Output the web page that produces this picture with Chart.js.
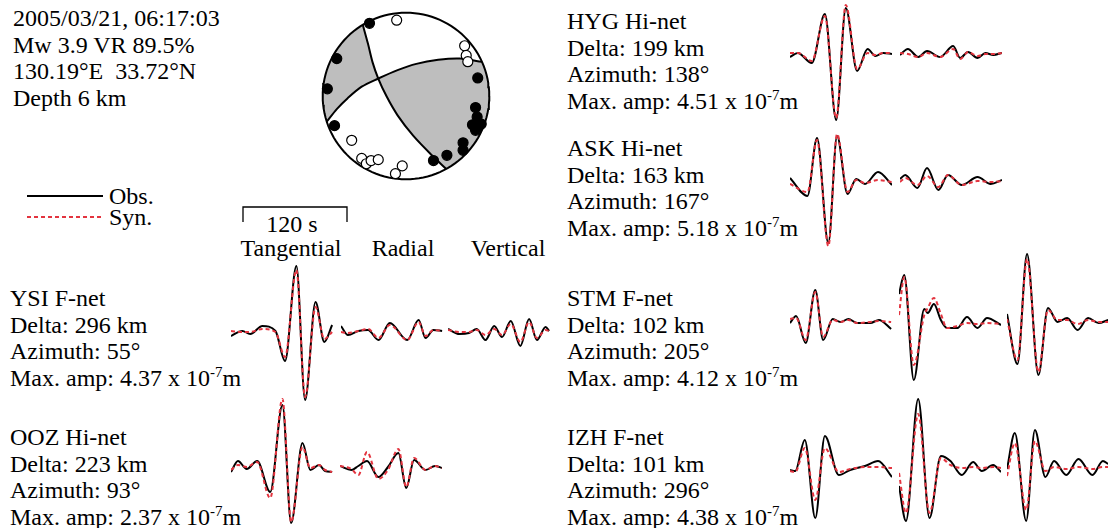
<!DOCTYPE html>
<html>
<head>
<meta charset="utf-8">
<script src="https://cdn.jsdelivr.net/npm/chart.js@4.4.1/dist/chart.umd.min.js"></script>
<style>
  body { margin: 0; background: #fff; }
  #page { position: relative; width: 1108px; height: 528px; overflow: hidden;
          font-family: "Liberation Serif", "Times New Roman", Times, serif; font-size: 24px; color: #000; }
  .txt { position: absolute; line-height: 26.5px; white-space: nowrap; }
  .txt sup { font-size: 15px; vertical-align: 0; position: relative; top: -9px; }
  .ctr { transform: translateX(-50%); }
  canvas.tr, canvas.ball { position: absolute; }
  svg { position: absolute; left: 0; top: 0; }
</style>
</head>
<body>
<div id="page">
  <div class="txt" style="left:13px;top:5px">2005/03/21, 06:17:03<br>Mw 3.9 VR 89.5%<br>130.19°E&nbsp; 33.72°N<br>Depth 6 km</div>

  <svg width="560" height="260">
    <line x1="27" y1="196" x2="103" y2="196" stroke="#000" stroke-width="2"/>
    <line x1="27" y1="217" x2="103" y2="217" stroke="#e3343f" stroke-width="2" stroke-dasharray="4 3"/>
    <polyline points="243,222 243,207 347,207 347,222" fill="none" stroke="#000" stroke-width="1.3"/>
  </svg>
  <div class="txt" style="left:109px;top:183px">Obs.</div>
  <div class="txt" style="left:109px;top:204px">Syn.</div>
  <div class="txt ctr" style="left:292px;top:211px">120 s</div>
  <div class="txt ctr" style="left:291px;top:235px">Tangential</div>
  <div class="txt ctr" style="left:403px;top:235px">Radial</div>
  <div class="txt ctr" style="left:508px;top:235px">Vertical</div>

  <div class="txt" style="left:567px;top:8px">HYG Hi-net<br>Delta: 199 km<br>Azimuth: 138°<br>Max. amp: 4.51 x 10<sup>-7</sup>m</div>
  <div class="txt" style="left:567px;top:135px">ASK Hi-net<br>Delta: 163 km<br>Azimuth: 167°<br>Max. amp: 5.18 x 10<sup>-7</sup>m</div>
  <div class="txt" style="left:10px;top:285px">YSI F-net<br>Delta: 296 km<br>Azimuth: 55°<br>Max. amp: 4.37 x 10<sup>-7</sup>m</div>
  <div class="txt" style="left:10px;top:424px">OOZ Hi-net<br>Delta: 223 km<br>Azimuth: 93°<br>Max. amp: 2.37 x 10<sup>-7</sup>m</div>
  <div class="txt" style="left:567px;top:285px">STM F-net<br>Delta: 102 km<br>Azimuth: 205°<br>Max. amp: 4.12 x 10<sup>-7</sup>m</div>
  <div class="txt" style="left:567px;top:424px">IZH F-net<br>Delta: 101 km<br>Azimuth: 296°<br>Max. amp: 4.38 x 10<sup>-7</sup>m</div>
</div>

<script>
// waveforms: knot times (s) and relative amplitudes (station peak ~ 70), obs vs syn
const hygT_t   = [0, 9, 25, 40, 53, 64, 77, 89, 98, 107, 117];
const hygT_obs = [-2, 2, -8, 41, -65, 47, -16, 6, -1, 2, 1];
const hygT_syn = [2, 2, -6, 39, -63, 50, -14, 2, 0, 2, 2];
const hygR_t   = [0, 9, 21, 31, 46, 61, 69, 78, 89, 98, 107, 117];
const hygR_obs = [0, 6, -2, 4, -2, 9, -3, 3, -3, 2, 0, 2];
const hygR_syn = [2, 1, -2, 2, -2, 6, -4, 3, -1, 1, 1, 2];

const askT_t   = [0, 20, 31, 44, 54, 66, 76, 86, 101, 117];
const askT_obs = [4, -14, 44, -61, 46, -12, 3, -2, 10, -3];
const askT_syn = [-2, -10, 42, -64, 48, -10, 2, -1, 2, 0];
const askR_t   = [0, 6, 20, 31, 44, 55, 71, 89, 104, 117];
const askR_obs = [3, 7, -6, 14, -8, 7, -3, 5, -2, 2];
const askR_syn = [0, 4, -3, 6, -5, 7, -3, 1, 0, 1];

const ysiT_t   = [0, 13, 22, 36, 51, 62, 75, 85, 97, 107, 116];
const ysiT_obs = [-4, 1, -2, 6, 1, -29, 66, -68, 30, -10, 7];
const ysiT_syn = [1, 0, 0, 3, 0, -25, 62, -65, 25, -7, 0];
const ysiR_t   = [0, 8, 20, 31, 43, 56, 76, 89, 97, 106, 116];
const ysiR_obs = [6, -3, 1, 2, -8, 9, -8, 12, -6, 2, 1];
const ysiR_syn = [0, -1, 1, 3, -6, 7, -8, 10, -4, 2, 1];
const ysiV_t   = [0, 13, 24, 33, 43, 53, 62, 72, 83, 93, 102, 112, 116];
const ysiV_obs = [3, -2, -1, 3, -8, 6, -5, 11, -14, 13, -8, 5, 1];
const ysiV_syn = [2, 0, 0, 2, -3, 3, -3, 8, -10, 10, -6, 2, 1];

const oozT_t   = [0, 8, 18, 30, 45, 59, 69, 82, 91, 101, 108, 116];
const oozT_obs = [-2, 9, 1, 9, -22, 65, -53, 27, 0, 5, -1, -2];
const oozT_syn = [0, 5, 3, 8, -28, 71, -52, 23, 2, 5, 0, -2];
const oozR_t   = [0, 13, 21, 31, 44, 55, 67, 76, 85, 98, 109, 117];
const oozR_obs = [4, 0, 4, 9, -7, 3, 17, -18, 10, 0, 4, 2];
const oozR_syn = [4, 1, -5, 18, -9, 0, 21, -17, 12, 0, 4, 2];

const stmT_t   = [0, 7, 18, 29, 38, 49, 58, 67, 77, 92, 102, 116];
const stmT_obs = [-1, 6, -21, 32, -18, 3, 0, 3, -1, -1, 2, -7];
const stmT_syn = [3, 4, -18, 30, -15, 2, 0, 2, -1, 0, 1, 0];
const stmR_t   = [0, 6, 17, 29, 33, 40, 48, 55, 67, 78, 90, 101, 117];
const stmR_obs = [28, 47, -58, 13, 9, 18, 2, -6, -6, 5, -6, 4, -3];
const stmR_syn = [7, 45, -43, 7, 14, 24, 8, -6, -4, -1, -2, -1, -2];
const stmV_t   = [0, 12, 23, 36, 47, 58, 69, 81, 93, 105, 116];
const stmV_obs = [8, -42, 68, -53, 14, 0, 4, -8, 4, -1, 2];
const stmV_syn = [3, -38, 63, -50, 12, 2, 2, -2, 2, 0, 0];

const izhT_t   = [0, 6, 17, 29, 40, 56, 69, 86, 101, 117];
const izhT_obs = [-1, -2, 29, -49, 33, -6, -1, 3, 8, -8];
const izhT_syn = [-2, -3, 21, -31, 21, -3, 0, 2, 2, 1];
const izhR_t   = [0, 8, 22, 35, 48, 59, 72, 85, 95, 108, 117];
const izhR_obs = [-17, -52, 70, -49, 13, 8, -6, 7, -2, 4, -3];
const izhR_syn = [-4, -44, 55, -44, 11, 4, 1, 2, 1, 2, 1];
const izhV_t   = [0, 9, 22, 32, 44, 54, 68, 82, 98, 110, 116];
const izhV_obs = [0, 36, -52, 39, -8, 8, -6, 10, -6, 8, 5];
const izhV_syn = [-7, 26, -41, 28, -2, 2, 0, 2, 0, 2, 2];

// focal sphere (lower hemisphere, unit radius)
const plane1 = [[-0.519, 0.855], [-0.457, 0.629], [-0.401, 0.404], [-0.333, 0.210], [-0.232, -0.007],
                [-0.101, -0.232], [0.086, -0.476], [0.311, -0.712], [0.483, -0.876]];
const plane2 = [[-0.951, -0.309], [-0.831, -0.157], [-0.700, -0.026], [-0.532, 0.112], [-0.333, 0.210],
                [-0.101, 0.311], [0.124, 0.386], [0.386, 0.434], [0.648, 0.449], [0.912, 0.410]];
const upDots = [[-0.438, 0.873], [-0.831, 0.449], [-0.944, 0.086], [-0.858, -0.356], [0.861, 0.217],
                [0.835, -0.139], [0.854, -0.251], [0.798, -0.345], [0.865, -0.363], [0.903, -0.337],
                [0.835, -0.412], [0.685, -0.562], [0.685, -0.652], [0.491, -0.712], [0.330, -0.775]];
const downDots = [[-0.112, 0.910], [0.704, 0.603], [0.723, 0.487], [0.742, 0.412], [-0.652, -0.532],
                  [-0.532, -0.749], [-0.476, -0.813], [-0.419, -0.775], [-0.333, -0.764],
                  [-0.045, -0.839], [-0.127, -0.933]];

const RED = '#e3343f';
const page = document.getElementById('page');

// trace windows: left edge and zero line in page px
const traces = [
  [hygT_t, hygT_obs, hygT_syn, 790, 55],  [hygR_t, hygR_obs, hygR_syn, 900, 55],
  [askT_t, askT_obs, askT_syn, 790, 182], [askR_t, askR_obs, askR_syn, 900, 182],
  [ysiT_t, ysiT_obs, ysiT_syn, 231, 332], [ysiR_t, ysiR_obs, ysiR_syn, 341, 332], [ysiV_t, ysiV_obs, ysiV_syn, 448, 332],
  [oozT_t, oozT_obs, oozT_syn, 231, 470], [oozR_t, oozR_obs, oozR_syn, 340, 470],
  [stmT_t, stmT_obs, stmT_syn, 790, 322], [stmR_t, stmR_obs, stmR_syn, 899, 322], [stmV_t, stmV_obs, stmV_syn, 1007, 322],
  [izhT_t, izhT_obs, izhT_syn, 790, 469], [izhR_t, izhR_obs, izhR_syn, 899, 469], [izhV_t, izhV_obs, izhV_syn, 1007, 469]
];

function mkCanvas(cls, left, top, w, h) {
  const c = document.createElement('canvas');
  c.className = cls;
  c.width = w; c.height = h;
  c.style.left = left + 'px'; c.style.top = top + 'px';
  page.appendChild(c);
  return c;
}

const quiet = { legend: { display: false }, tooltip: { enabled: false } };

traces.forEach(([t, obs, syn, left, base]) => {
  const cv = mkCanvas('tr', left, base - 90, 102, 180);
  const pts = arr => arr.map((v, i) => ({ x: t[i], y: v }));
  new Chart(cv, {
    type: 'line',
    data: {
      datasets: [
        { data: pts(syn), borderColor: RED, borderWidth: 2, borderDash: [4, 3], pointRadius: 0,
          cubicInterpolationMode: 'monotone', order: 0, clip: false },
        { data: pts(obs), borderColor: '#000', borderWidth: 2, pointRadius: 0,
          cubicInterpolationMode: 'monotone', order: 1, clip: false }
      ]
    },
    options: {
      responsive: false, animation: false, events: [],
      plugins: quiet,
      scales: {
        x: { type: 'linear', display: false, min: 0, max: 117 },
        y: { display: false, min: -90, max: 90 }
      }
    }
  });
});

// beach ball
function arc(a0, a1, n) {
  const out = [];
  for (let i = 0; i <= n; i++) {
    const a = a0 + (a1 - a0) * i / n;
    out.push([Math.cos(a), Math.sin(a)]);
  }
  return out;
}
const ang = p => Math.atan2(p[1], p[0]);
const xy = arr => arr.map(p => ({ x: p[0], y: p[1] }));

const aLeft = ang(plane2[0]) + 2 * Math.PI, aTop = ang(plane1[0]);
const aRight = ang(plane2[plane2.length - 1]), aBot = ang(plane1[plane1.length - 1]);
const shadeLeft = [...plane1.slice(0, 4), ...plane2.slice(0, 4).reverse(), ...arc(aLeft, aTop, 40)];
const shadeRight = [...plane2.slice(4), ...arc(aRight, aBot, 40), ...plane1.slice(3).reverse()];

const ball = mkCanvas('ball', 306, -4, 200, 200);
new Chart(ball, {
  type: 'scatter',
  data: {
    datasets: [
      { data: xy(shadeLeft), showLine: true, fill: 'shape', backgroundColor: '#bebebe', borderWidth: 0, pointRadius: 0, order: 4 },
      { data: xy(shadeRight), showLine: true, fill: 'shape', backgroundColor: '#bebebe', borderWidth: 0, pointRadius: 0, order: 4 },
      { data: xy(arc(0, 2 * Math.PI, 120)), showLine: true, borderColor: '#000', borderWidth: 2, pointRadius: 0, order: 3 },
      { data: xy(plane1), showLine: true, borderColor: '#000', borderWidth: 2, pointRadius: 0, tension: 0.3, order: 2 },
      { data: xy(plane2), showLine: true, borderColor: '#000', borderWidth: 2, pointRadius: 0, tension: 0.3, order: 2 },
      { data: xy(downDots), pointRadius: 5, backgroundColor: '#fff', borderColor: '#000', borderWidth: 1.2, order: 1 },
      { data: xy(upDots), pointRadius: 5, backgroundColor: '#000', borderColor: '#000', borderWidth: 1.2, order: 0 }
    ]
  },
  options: {
    responsive: false, animation: false, events: [],
    plugins: quiet,
    scales: {
      x: { type: 'linear', display: false, min: -1.126, max: 1.126 },
      y: { type: 'linear', display: false, min: -1.126, max: 1.126 }
    }
  }
});
</script>
</body>
</html>
